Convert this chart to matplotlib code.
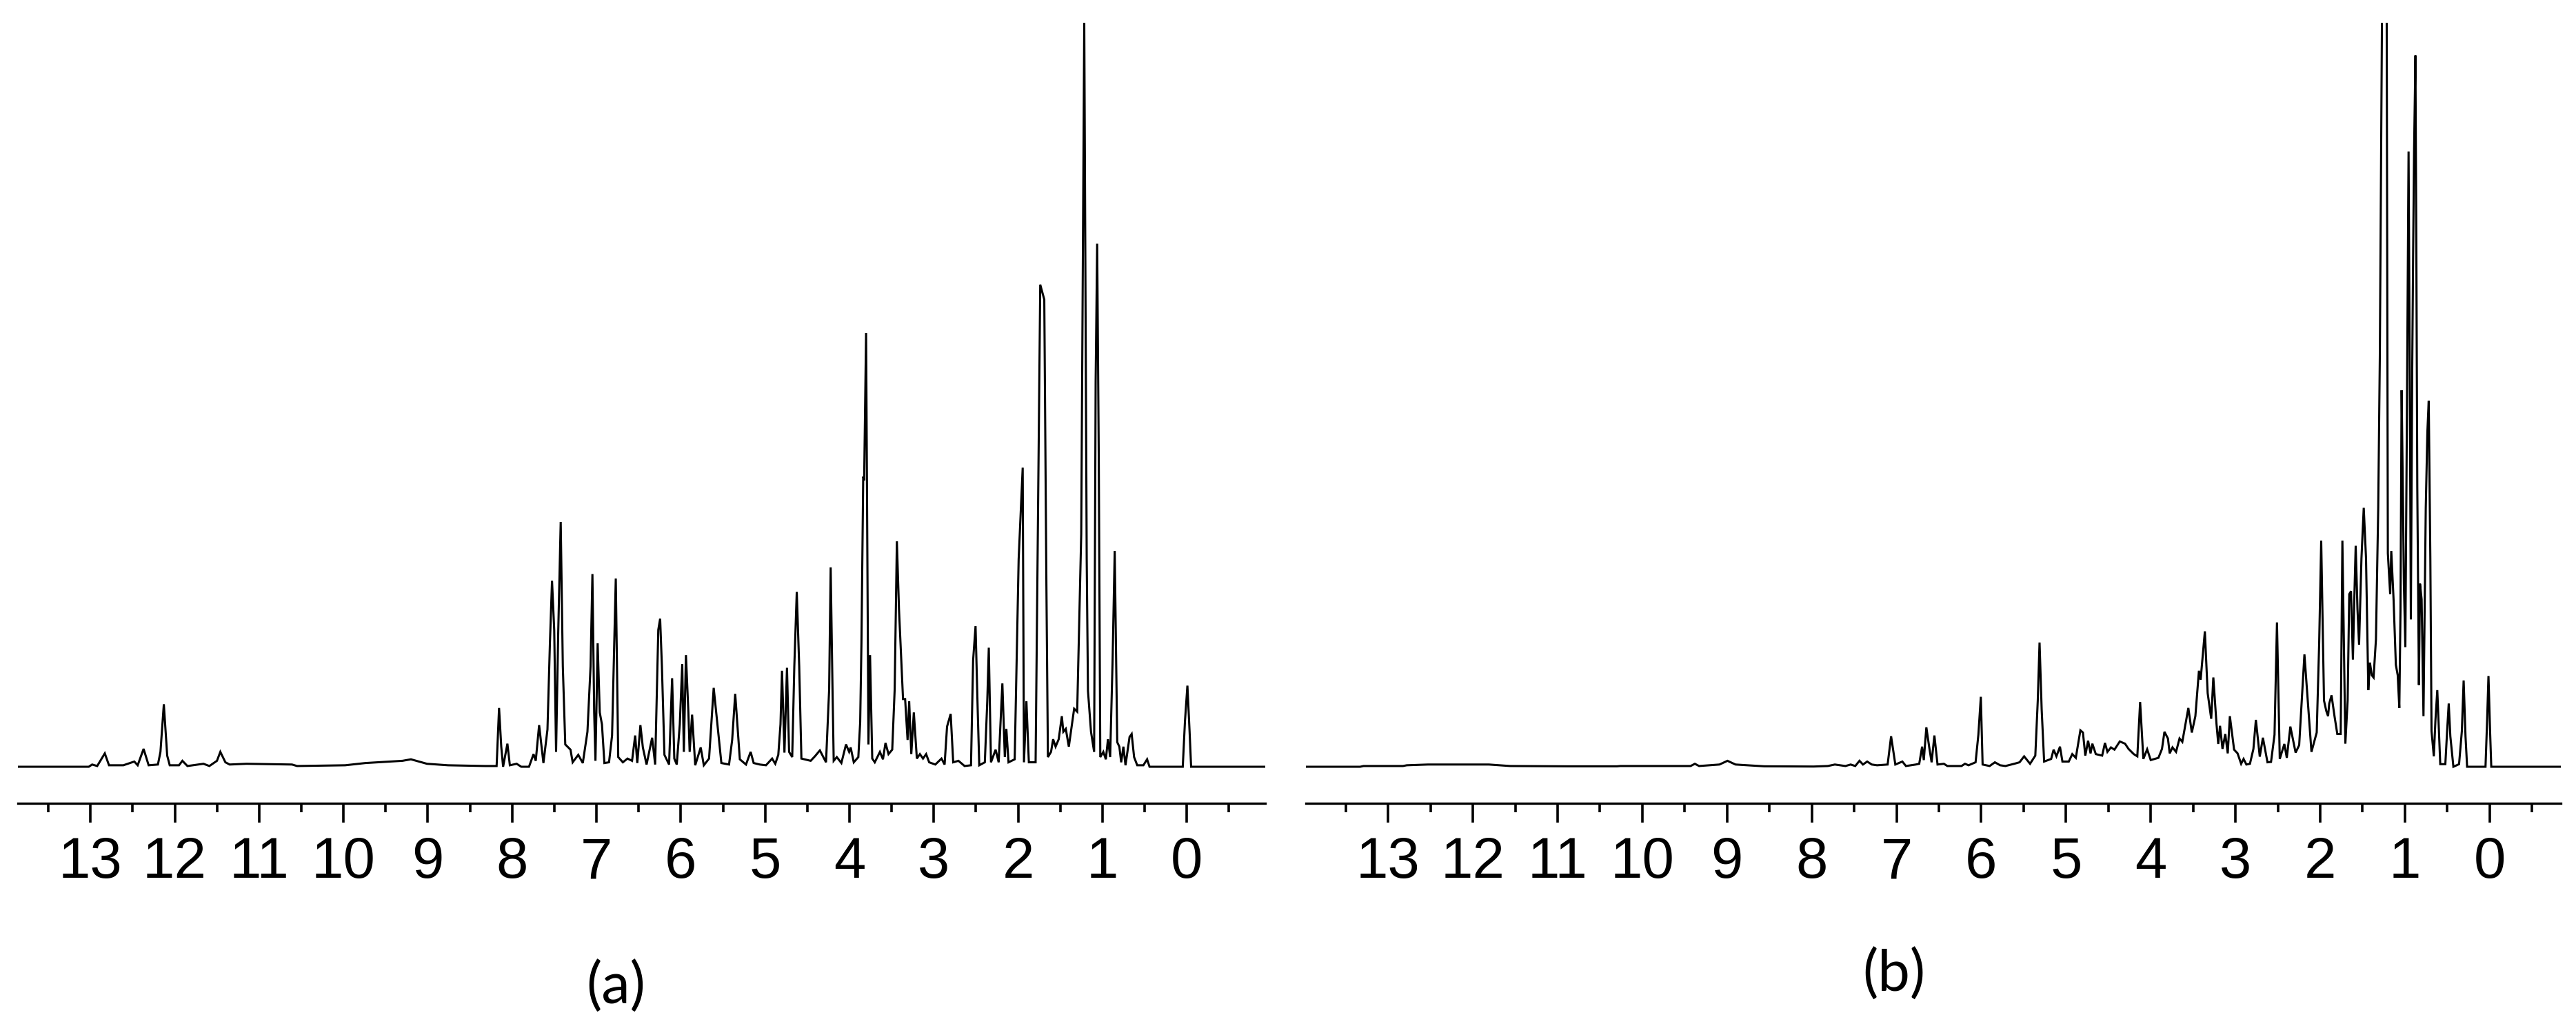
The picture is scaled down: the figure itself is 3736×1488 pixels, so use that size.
import numpy as np
import matplotlib.pyplot as plt
from matplotlib.ticker import MultipleLocator, FormatStrFormatter

# spectrum (a): chemical shift (ppm) and relative intensity
ppm_a = [13.86, 13.02, 12.98, 12.92, 12.83, 12.78, 12.61, 12.48, 12.44, 12.37, 12.31, 12.20,
         12.17, 12.13, 12.09, 12.06, 11.95, 11.91, 11.85, 11.66, 11.59, 11.50, 11.46, 11.40,
         11.35, 11.15, 10.61, 10.55, 9.98, 9.74, 9.30, 9.20, 9.01, 8.76, 8.32, 8.184, 8.155,
         8.129, 8.107, 8.056, 8.027, 7.946, 7.892, 7.80, 7.746, 7.72, 7.68, 7.629, 7.581, 7.552,
         7.527, 7.501, 7.479, 7.454, 7.424, 7.399, 7.370, 7.308, 7.282, 7.216, 7.162, 7.107,
         7.07, 7.048, 7.027, 7.012, 6.986, 6.961, 6.935, 6.906, 6.851, 6.815, 6.771, 6.742,
         6.687, 6.632, 6.578, 6.541, 6.516, 6.479, 6.45, 6.406, 6.340, 6.304, 6.267, 6.245,
         6.224, 6.194, 6.139, 6.103, 6.077, 6.048, 6.012, 5.983, 5.964, 5.939, 5.910, 5.895,
         5.866, 5.829, 5.764, 5.727, 5.665, 5.610, 5.519, 5.428, 5.391, 5.355, 5.300, 5.227,
         5.172, 5.136, 5.063, 4.99, 4.917, 4.88, 4.844, 4.818, 4.800, 4.771, 4.741, 4.716,
         4.679, 4.654, 4.625, 4.596, 4.570, 4.460, 4.41, 4.351, 4.278, 4.241, 4.223, 4.201,
         4.187, 4.150, 4.096, 4.041, 4.004, 3.986, 3.949, 3.895, 3.873, 3.858, 3.837, 3.826,
         3.803, 3.775, 3.756, 3.73, 3.70, 3.639, 3.603, 3.573, 3.537, 3.493, 3.464, 3.438,
         3.413, 3.365, 3.34, 3.311, 3.292, 3.267, 3.237, 3.201, 3.165, 3.128, 3.091, 3.055,
         2.982, 2.909, 2.872, 2.843, 2.800, 2.770, 2.708, 2.635, 2.559, 2.534, 2.505, 2.479,
         2.461, 2.395, 2.366, 2.348, 2.322, 2.267, 2.231, 2.187, 2.158, 2.14, 2.114, 2.041,
         1.994, 1.946, 1.931, 1.902, 1.873, 1.793, 1.764, 1.738, 1.690, 1.665, 1.647, 1.610,
         1.585, 1.556, 1.519, 1.482, 1.464, 1.435, 1.399, 1.336, 1.300, 1.252, 1.216, 1.187,
         1.172, 1.136, 1.099, 1.081, 1.063, 1.044, 1.026, 0.990, 0.96, 0.935, 0.909, 0.880,
         0.855, 0.825, 0.80, 0.778, 0.752, 0.727, 0.679, 0.654, 0.625, 0.588, 0.515, 0.471,
         0.442, 0.048, 0.022, -0.007, -0.033, -0.051, -0.93]
int_a = [0, 0, 0.3, 0.1, 1.8, 0.2, 0.2, 0.7, 0.2, 2.4, 0.2, 0.3,
         2.0, 8.4, 1.5, 0.2, 0.2, 0.8, 0.1, 0.4, 0.1, 0.8, 2.0, 0.6,
         0.3, 0.4, 0.3, 0.1, 0.2, 0.5, 0.8, 1.0, 0.4, 0.2, 0.1, 0.1, 7.9,
         2.7, 0, 3.1, 0.2, 0.4, 0, 0, 1.7, 0.8, 5.6, 0.5, 5.0, 16.6,
         25.0, 18.4, 2.0, 17.8, 32.9, 13.5, 3.0, 2.3, 0.6, 1.6, 0.5, 4.7,
         13.5, 25.9, 7.3, 0.8, 16.6, 7.3, 5.7, 0.5, 0.6, 4.2, 25.3, 1.3,
         0.6, 1.1, 0.8, 4.2, 0.5, 5.6, 2.6, 0.3, 3.9, 0.3, 18.4, 19.9,
         13.5, 1.6, 0.3, 11.9, 1.1, 0.3, 5.7, 13.8, 2.0, 15.0, 7.3, 2.0,
         7.0, 0.2, 2.6, 0.2, 1.1, 10.6, 0.5, 0.3, 3.6, 9.8, 1.0, 0.3,
         2.0, 0.5, 0.3, 0.2, 1.1, 0.4, 1.6, 5.7, 12.9, 1.9, 13.3, 2.0,
         1.3, 13.5, 23.5, 13.5, 1.1, 0.8, 1.4, 2.2, 0.6, 10.4, 26.8, 10.4,
         0.8, 1.3, 0.5, 3.0, 2.0, 2.6, 0.6, 1.3, 6.0, 16.6, 39.0, 38.5,
         58.3, 3.0, 15.0, 1.1, 0.6, 2.0, 1.0, 3.2, 1.7, 2.3, 10.4, 30.3,
         21.2, 9.1, 9.1, 3.6, 8.8, 1.7, 7.3, 1.1, 1.7, 1.1, 1.7, 0.6,
         0.3, 1.1, 0.3, 5.4, 7.1, 0.6, 0.8, 0.1, 0.2, 14.3, 18.9, 7.4,
         0.2, 0.6, 8.8, 16.0, 0.6, 2.3, 0.6, 11.2, 1.3, 5.1, 0.6, 1.0,
         27.9, 40.2, 0.6, 8.8, 0.6, 0.6, 34.8, 64.8, 62.8, 24.5, 1.3, 2.0,
         3.7, 2.7, 3.7, 6.8, 4.7, 5.1, 2.7, 7.8, 7.4, 31.3, 100, 27.9,
         10.2, 4.7, 2.0, 51.8, 70.3, 41.6, 1.3, 2.0, 1.0, 3.7, 1.3, 14.3,
         29.0, 3.3, 2.7, 0.6, 2.7, 0.2, 4.0, 4.4, 1.3, 0.2, 0.2, 1.0,
         0, 0, 6.1, 10.9, 4.7, 0, 0]

# spectrum (b)
ppm_b = [13.97, 13.33, 13.29, 12.825, 12.78, 12.53, 11.81, 11.56, 10.89, 10.30, 10.26, 9.43,
         9.38, 9.33, 9.09, 8.995, 8.90, 8.56, 7.977, 7.811, 7.728, 7.666, 7.603, 7.541, 7.487,
         7.437, 7.396, 7.346, 7.292, 7.23, 7.105, 7.064, 7.014, 6.931, 6.889, 6.773, 6.732,
         6.698, 6.678, 6.648, 6.615, 6.586, 6.553, 6.516, 6.441, 6.4, 6.233, 6.192, 6.15,
         6.067, 6.034, 6.005, 5.984, 5.901, 5.839, 5.777, 5.715, 5.611, 5.548, 5.494, 5.424,
         5.362, 5.333, 5.312, 5.287, 5.258, 5.175, 5.146, 5.113, 5.071, 5.042, 4.967, 4.926,
         4.884, 4.830, 4.80, 4.772, 4.739, 4.71, 4.689, 4.648, 4.573, 4.54, 4.511, 4.469,
         4.428, 4.365, 4.303, 4.262, 4.2, 4.158, 4.125, 4.087, 4.042, 4.0, 3.909, 3.867,
         3.838, 3.797, 3.776, 3.743, 3.701, 3.66, 3.627, 3.556, 3.515, 3.473, 3.431, 3.411,
         3.361, 3.328, 3.286, 3.261, 3.224, 3.203, 3.182, 3.153, 3.12, 3.091, 3.066, 3.016,
         2.975, 2.933, 2.904, 2.871, 2.829, 2.788, 2.759, 2.713, 2.676, 2.622, 2.58, 2.539,
         2.510, 2.477, 2.423, 2.394, 2.352, 2.29, 2.248, 2.186, 2.103, 2.041, 2.012, 1.988,
         1.955, 1.928, 1.907, 1.893, 1.866, 1.831, 1.798, 1.758, 1.738, 1.722, 1.703, 1.676,
         1.657, 1.636, 1.614, 1.595, 1.581, 1.56, 1.541, 1.513, 1.486, 1.459, 1.432, 1.413,
         1.391, 1.37, 1.342, 1.315, 1.296, 1.277, 1.243, 1.215, 1.2015, 1.174, 1.161, 1.134,
         1.107, 1.085, 1.066, 1.052, 1.039, 1.022, 1.012, 0.995, 0.979, 0.957, 0.944, 0.930,
         0.914, 0.903, 0.892, 0.876, 0.865, 0.854, 0.835, 0.822, 0.803, 0.781, 0.754, 0.735,
         0.719, 0.70, 0.686, 0.659, 0.64, 0.618, 0.599, 0.583, 0.523, 0.502, 0.483, 0.464,
         0.428, 0.361, 0.328, 0.307, 0.285, 0.266, 0.049, 0.03, 0.014, -0.005, -0.019, -0.84]
int_b = [0, 0, 0.1, 0.1, 0.2, 0.3, 0.3, 0.1, 0.06, 0.06, 0.1, 0.1,
         0.4, 0.1, 0.3, 0.8, 0.3, 0.06, 0.03, 0.1, 0.3, 0.2, 0.1, 0.3, 0.1,
         0.8, 0.3, 0.7, 0.3, 0.2, 0.3, 4.1, 0.3, 0.7, 0.1, 0.3, 0.4,
         2.7, 0.9, 5.3, 2.7, 0.6, 4.2, 0.3, 0.4, 0.1, 0.1, 0.4, 0.2,
         0.6, 4.3, 9.4, 0.3, 0.1, 0.6, 0.2, 0.1, 0.4, 0.6, 1.4, 0.4,
         1.5, 8.9, 16.7, 7.7, 0.7, 1.05, 2.3, 1.4, 2.7, 0.7, 0.7, 1.7,
         1.2, 4.9, 4.6, 1.5, 3.5, 1.8, 3.1, 1.7, 1.5, 3.2, 2.0, 2.6,
         2.3, 3.4, 3.1, 2.4, 1.7, 1.4, 8.7, 1.05, 2.35, 0.9, 1.2, 2.4,
         4.7, 3.8, 1.8, 2.6, 2.0, 3.8, 3.35, 7.9, 4.6, 6.8, 12.9, 11.7,
         18.2, 9.9, 6.45, 12.0, 5.8, 3.06, 5.5, 2.4, 4.4, 1.8, 6.8, 2.3,
         1.8, 0.4, 1.05, 0.3, 0.4, 2.4, 6.3, 1.36, 3.9, 0.6, 0.65, 4.3,
         19.4, 1.05, 3.06, 1.2, 5.4, 1.9, 2.9, 15.1, 2.0, 4.6, 16.6, 30.4,
         8.9, 7.5, 6.8, 8.5, 9.6, 6.8, 4.4, 4.4, 30.4, 17.8, 3.1, 8.9,
         23.2, 23.6, 14.4, 23.6, 29.7, 21.2, 16.4, 28.0, 34.8, 28.0, 10.3, 14.0,
         12.3, 12.0, 17.1, 34.8, 55.3, 89.5, 150, 100, 28.7, 23.2, 29.0, 22.5,
         13.7, 12.3, 7.9, 21.2, 50.6, 34.8, 24.6, 16.1, 43.0, 82.7, 55.3, 19.8,
         53.3, 69.0, 82.7, 95.6, 69.0, 37.6, 11.0, 24.6, 22.5, 6.8, 34.8, 45.0,
         49.2, 28.0, 4.8, 1.4, 6.2, 10.3, 4.8, 0.35, 0.35, 4.8, 8.5, 4.1,
         0, 0.35, 4.8, 11.6, 4.1, 0, 0, 6.2, 12.2, 4.8, 0, 0]

panel_labels = ['(a)', '(b)']

W, H = 3736, 1488
fig = plt.figure(figsize=(W / 100, H / 100), dpi=100)


def px_rect(x0, x1, y_top, y_bot):
    return [x0 / W, 1 - y_bot / H, (x1 - x0) / W, (y_bot - y_top) / H]


ax_a = fig.add_axes(px_rect(26, 1835, 33, 1165))
ax_b = fig.add_axes(px_rect(1894, 3714, 33, 1165))

for ax, x, y, lim in [(ax_a, ppm_a, int_a, (13.86, -0.93)),
                      (ax_b, ppm_b, int_b, (13.97, -0.84))]:
    ax.plot(x, y, color='black', lw=2.2, solid_joinstyle='miter')
    ax.set_xlim(*lim)
    ax.set_ylim(-4.91, 100)
    for s in ['left', 'right', 'top']:
        ax.spines[s].set_visible(False)
    ax.spines['bottom'].set_linewidth(2.4)
    ax.set_yticks([])
    ax.xaxis.set_major_locator(MultipleLocator(1))
    ax.xaxis.set_minor_locator(MultipleLocator(0.5))
    ax.xaxis.set_major_formatter(FormatStrFormatter('%d'))
    ax.tick_params(axis='x', which='major', direction='out', length=20, width=2.6,
                   pad=14, labelsize=60)
    ax.tick_params(axis='x', which='minor', direction='out', length=9.5, width=2.6)
    for lab in ax.get_xticklabels():
        lab.set_family('Liberation Sans')

fig.text(893 / W, 1 - 1432 / H, panel_labels[0], ha='center', va='center',
         fontsize=60, family='Lato')
fig.text(2747 / W, 1 - 1414 / H, panel_labels[1], ha='center', va='center',
         fontsize=60, family='Lato')

fig.savefig('out.png', dpi=100, facecolor='white')
